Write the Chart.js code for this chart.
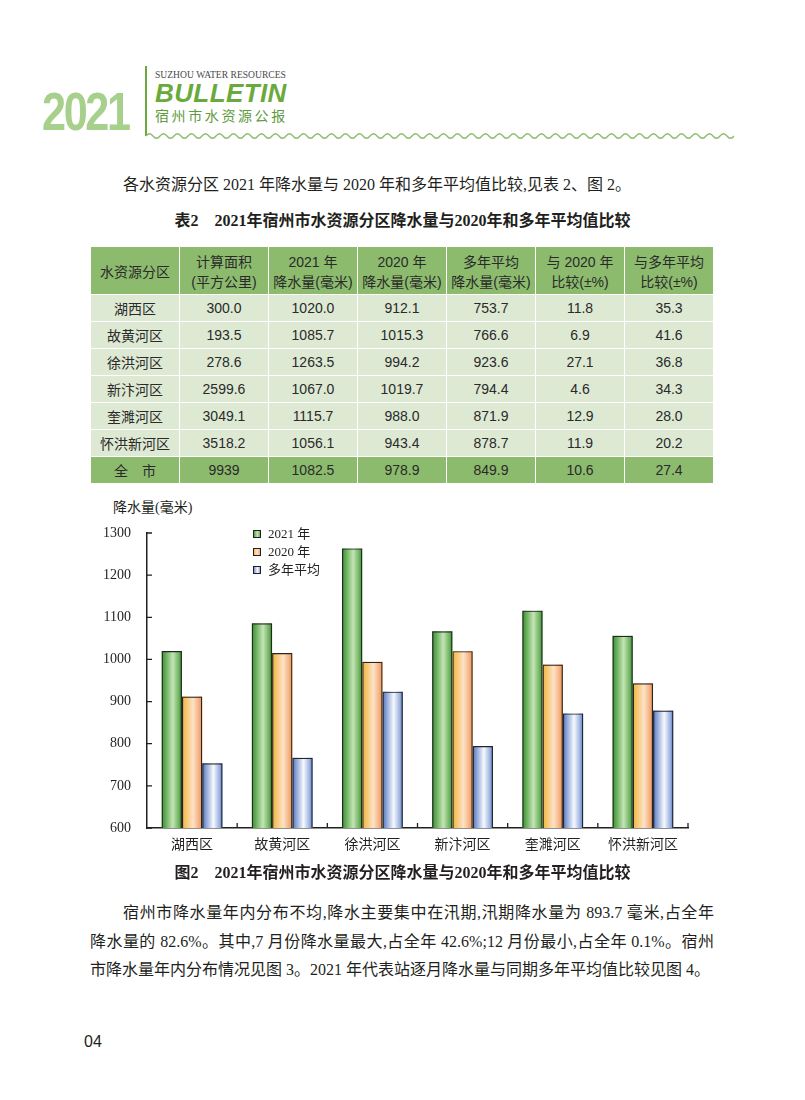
<!DOCTYPE html>
<html>
<head>
<meta charset="utf-8">
<script src="https://cdn.jsdelivr.net/npm/chart.js@4.4.1/dist/chart.umd.min.js"></script>
<style>
    body{margin:0;background:#fff;width:805px;height:1100px;position:relative;overflow:hidden;}
    .abs{position:absolute;white-space:nowrap;}
    .serif{font-family:"Liberation Serif","Noto Sans CJK SC",serif;color:#231f20;}
    .bold{font-weight:bold;}
    #year-big{left:42px;top:71px;font:bold 54px "Liberation Sans",sans-serif;color:#a8d08d;letter-spacing:-3px;transform:scaleX(0.8);transform-origin:left top;line-height:80px;}
    #head-line{left:145px;top:66px;width:2px;height:70px;background:#6aaa3c;}
    #head-en{left:155px;top:68px;font:9.6px "Liberation Serif",serif;color:#4a4a4a;line-height:14px;}
    #head-bulletin{left:155px;top:78px;font:italic bold 26px "Liberation Sans",sans-serif;color:#6aaa3c;letter-spacing:0.4px;line-height:30px;}
    #head-cn{left:155px;top:105px;font:14px "Noto Sans CJK SC",sans-serif;color:#5e9a3e;letter-spacing:2.6px;line-height:20px;}
    #wave{position:absolute;left:146px;top:130px;}
    .line{font-size:16px;line-height:20px;}
    .just{position:absolute;left:90px;width:624px;text-align:justify;text-align-last:justify;white-space:normal;}
    table{position:absolute;left:90px;top:246px;width:624px;border-collapse:collapse;table-layout:fixed;
        font-family:"Liberation Sans","Noto Sans CJK SC",sans-serif;font-size:14px;color:#2a2a2a;}
    td{border:1px solid #fff;text-align:center;padding:0;}
    tr.head td{background:#8cbb6e;height:44px;line-height:20px;padding-top:3px;}
    tr.row td{background:#dde9d3;height:26px;}
    tr.total td{background:#8cbb6e;height:26px;}
    #chart-wrap{position:absolute;left:80px;top:495px;width:640px;height:370px;}
</style>
</head>
<body>

<div id="year-big" class="abs">2021</div>
<div id="head-line" class="abs"></div>
<div id="head-en" class="abs">SUZHOU WATER RESOURCES</div>
<div id="head-bulletin" class="abs">BULLETIN</div>
<div id="head-cn" class="abs">宿州市水资源公报</div>
<svg id="wave" width="590" height="12"><path id="wave-path" fill="none" stroke="#8cbb6e" stroke-width="1.3"/></svg>

<div class="abs serif line" style="left:123px;top:175px;">各水资源分区 2021 年降水量与 2020 年和多年平均值比较,见表 2、图 2。</div>
<div class="abs serif bold" style="left:0;width:805px;text-align:center;top:211px;font-size:16px;line-height:20px;">表2　2021年宿州市水资源分区降水量与2020年和多年平均值比较</div>

<table id="rain-table"></table>

<div class="abs serif" style="left:113px;top:499px;font-size:14px;line-height:18px;">降水量(毫米)</div>
<div id="chart-wrap"><canvas id="rain-chart" width="640" height="370"></canvas></div>

<div class="abs serif bold" style="left:0;width:805px;text-align:center;top:863px;font-size:16px;line-height:20px;">图2　2021年宿州市水资源分区降水量与2020年和多年平均值比较</div>

<div class="serif line just" style="top:903px;text-indent:33px;">宿州市降水量年内分布不均,降水主要集中在汛期,汛期降水量为 893.7 毫米,占全年</div>
<div class="serif line just" style="top:932px;">降水量的 82.6%。其中,7 月份降水量最大,占全年 42.6%;12 月份最小,占全年 0.1%。宿州</div>
<div class="abs serif line" style="left:90px;top:960px;">市降水量年内分布情况见图 3。2021 年代表站逐月降水量与同期多年平均值比较见图 4。</div>

<div class="abs" style="left:84px;top:1031px;font:16px 'Liberation Sans',sans-serif;color:#231f20;line-height:22px;">04</div>

<script>
const categories = ["湖西区", "故黄河区", "徐洪河区", "新汴河区", "奎濉河区", "怀洪新河区"];
const areas = [300.0, 193.5, 278.6, 2599.6, 3049.1, 3518.2];
const rain2021 = [1020.0, 1085.7, 1263.5, 1067.0, 1115.7, 1056.1];
const rain2020 = [912.1, 1015.3, 994.2, 1019.7, 988.0, 943.4];
const rainAvg = [753.7, 766.6, 923.6, 794.4, 871.9, 878.7];
const vs2020 = [11.8, 6.9, 27.1, 4.6, 12.9, 11.9];
const vsAvg = [35.3, 41.6, 36.8, 34.3, 28.0, 20.2];
const totalRow = ["全　市", "9939", "1082.5", "978.9", "849.9", "10.6", "27.4"];
const tableHeaders = [
    ["水资源分区"],
    ["计算面积", "(平方公里)"],
    ["2021 年", "降水量(毫米)"],
    ["2020 年", "降水量(毫米)"],
    ["多年平均", "降水量(毫米)"],
    ["与 2020 年", "比较(±%)"],
    ["与多年平均", "比较(±%)"],
];
const seriesLabels = ["2021 年", "2020 年", "多年平均"];
const yMin = 600;
const yMax = 1300;
const yStep = 100;

// bar fill gradients (left edge -> light centre -> right edge)
const barGradients = [
    [[0, "#3e8c38"], [0.18, "#5eab52"], [0.55, "#c6e4b6"], [0.85, "#6cb45e"], [1, "#3f8b39"]],
    [[0, "#f0b441"], [0.2, "#f6c56a"], [0.55, "#fde2c8"], [0.85, "#f4ae7c"], [1, "#ee9552"]],
    [[0, "#5073bd"], [0.2, "#8ea6d8"], [0.55, "#f7f9fe"], [0.85, "#9bb2df"], [1, "#5a7cc4"]],
];
const serifFont = "'Liberation Serif', 'Noto Sans CJK SC', serif";
const inkColor = "#231f20";

// header wave
(function drawWave(){
    let d = "M0 6";
    for (let x = 0; x <= 584; x += 7){
        const up = (x / 7) % 2 === 0;
        d += ` Q${x + 3.5} ${up ? 1.5 : 10.5} ${x + 7} 6`;
    }
    document.getElementById("wave-path").setAttribute("d", d);
})();

// table
(function buildTable(){
    const table = document.getElementById("rain-table");
    let html = '<tr class="head">';
    tableHeaders.forEach(h => { html += `<td>${h.join("<br>")}</td>`; });
    html += "</tr>";
    categories.forEach((name, i) => {
        const cells = [name, areas[i].toFixed(1), rain2021[i].toFixed(1), rain2020[i].toFixed(1),
            rainAvg[i].toFixed(1), vs2020[i].toFixed(1), vsAvg[i].toFixed(1)];
        html += '<tr class="row">' + cells.map(c => `<td>${c}</td>`).join("") + "</tr>";
    });
    html += '<tr class="total">' + totalRow.map(c => `<td>${c}</td>`).join("") + "</tr>";
    table.innerHTML = html;
})();

function makeGradient(ctx, x0, x1, stops){
    const g = ctx.createLinearGradient(x0, 0, x1, 0);
    stops.forEach(([p, c]) => g.addColorStop(p, c));
    return g;
}

// paint the cylinder-like fills under the bar outlines
const barFillPlugin = {
    id: "barFill",
    beforeDatasetsDraw(chart){
        const {ctx, chartArea: area} = chart;
        ctx.save();
        ctx.beginPath();
        ctx.rect(area.left, area.top, area.right - area.left, area.bottom - area.top);
        ctx.clip();
        chart.data.datasets.forEach((ds, di) => {
            const meta = chart.getDatasetMeta(di);
            meta.data.forEach(bar => {
                const {x, y, base, width} = bar.getProps(["x", "y", "base", "width"], true);
                ctx.fillStyle = makeGradient(ctx, x - width / 2, x + width / 2, barGradients[di]);
                ctx.fillRect(x - width / 2, y, width, base - y);
            });
        });
        ctx.restore();
    }
};

// inward tick marks + legend
const decorPlugin = {
    id: "decor",
    afterDraw(chart){
        const {ctx, chartArea: area, scales: {x, y}} = chart;
        ctx.save();
        ctx.strokeStyle = inkColor;
        ctx.lineWidth = 1.3;
        ctx.beginPath();
        y.ticks.forEach((t, i) => {
            const py = y.getPixelForTick(i);
            ctx.moveTo(area.left, py);
            ctx.lineTo(area.left + 5, py);
        });
        const step = x.getPixelForTick(1) - x.getPixelForTick(0);
        for (let i = 1; i <= categories.length; i++){
            const px = x.getPixelForTick(0) - step / 2 + i * step;
            ctx.moveTo(px, area.bottom);
            ctx.lineTo(px, area.bottom - 5);
        }
        ctx.stroke();

        // legend
        ctx.font = "13px " + serifFont;
        ctx.textBaseline = "middle";
        chart.data.datasets.forEach((ds, di) => {
            const ly = 39 + di * 18;
            ctx.fillStyle = makeGradient(ctx, 173, 181, barGradients[di]);
            ctx.fillRect(173, ly - 4, 8, 8);
            ctx.lineWidth = 1;
            ctx.strokeStyle = inkColor;
            ctx.strokeRect(173.5, ly - 3.5, 7, 7);
            ctx.fillStyle = inkColor;
            ctx.fillText(ds.label, 188, ly + 1);
        });
        ctx.restore();
    }
};

const barStyle = {
    backgroundColor: "rgba(0,0,0,0)",
    borderColor: "#262626",
    borderWidth: 1.2,
    borderSkipped: false,
    categoryPercentage: 0.675,
    barPercentage: 1.0,
};

const rainChart = new Chart(document.getElementById("rain-chart"), {
    type: "bar",
    data: {
        labels: categories,
        datasets: [
            {label: seriesLabels[0], data: rain2021, ...barStyle},
            {label: seriesLabels[1], data: rain2020, ...barStyle},
            {label: seriesLabels[2], data: rainAvg, ...barStyle},
        ]
    },
    options: {
        responsive: false,
        animation: false,
        layout: {padding: {top: 38, right: 32, left: 0, bottom: 0}},
        plugins: {
            legend: {display: false},
            tooltip: {enabled: false},
        },
        scales: {
            x: {
                grid: {display: false},
                border: {display: true, color: inkColor, width: 1.5},
                ticks: {color: inkColor, padding: 1, font: {family: serifFont, size: 14}},
                afterFit(scale){ scale.height = 37; },
            },
            y: {
                min: yMin,
                max: yMax,
                grid: {display: false},
                border: {display: true, color: inkColor, width: 1.5},
                ticks: {
                    stepSize: yStep, color: inkColor, padding: 8,
                    font: {family: serifFont, size: 14},
                    callback: (value) => String(value),
                },
                afterFit(scale){ scale.width = 67; },
            }
        }
    },
    plugins: [barFillPlugin, decorPlugin]
});
</script>
</body>
</html>
